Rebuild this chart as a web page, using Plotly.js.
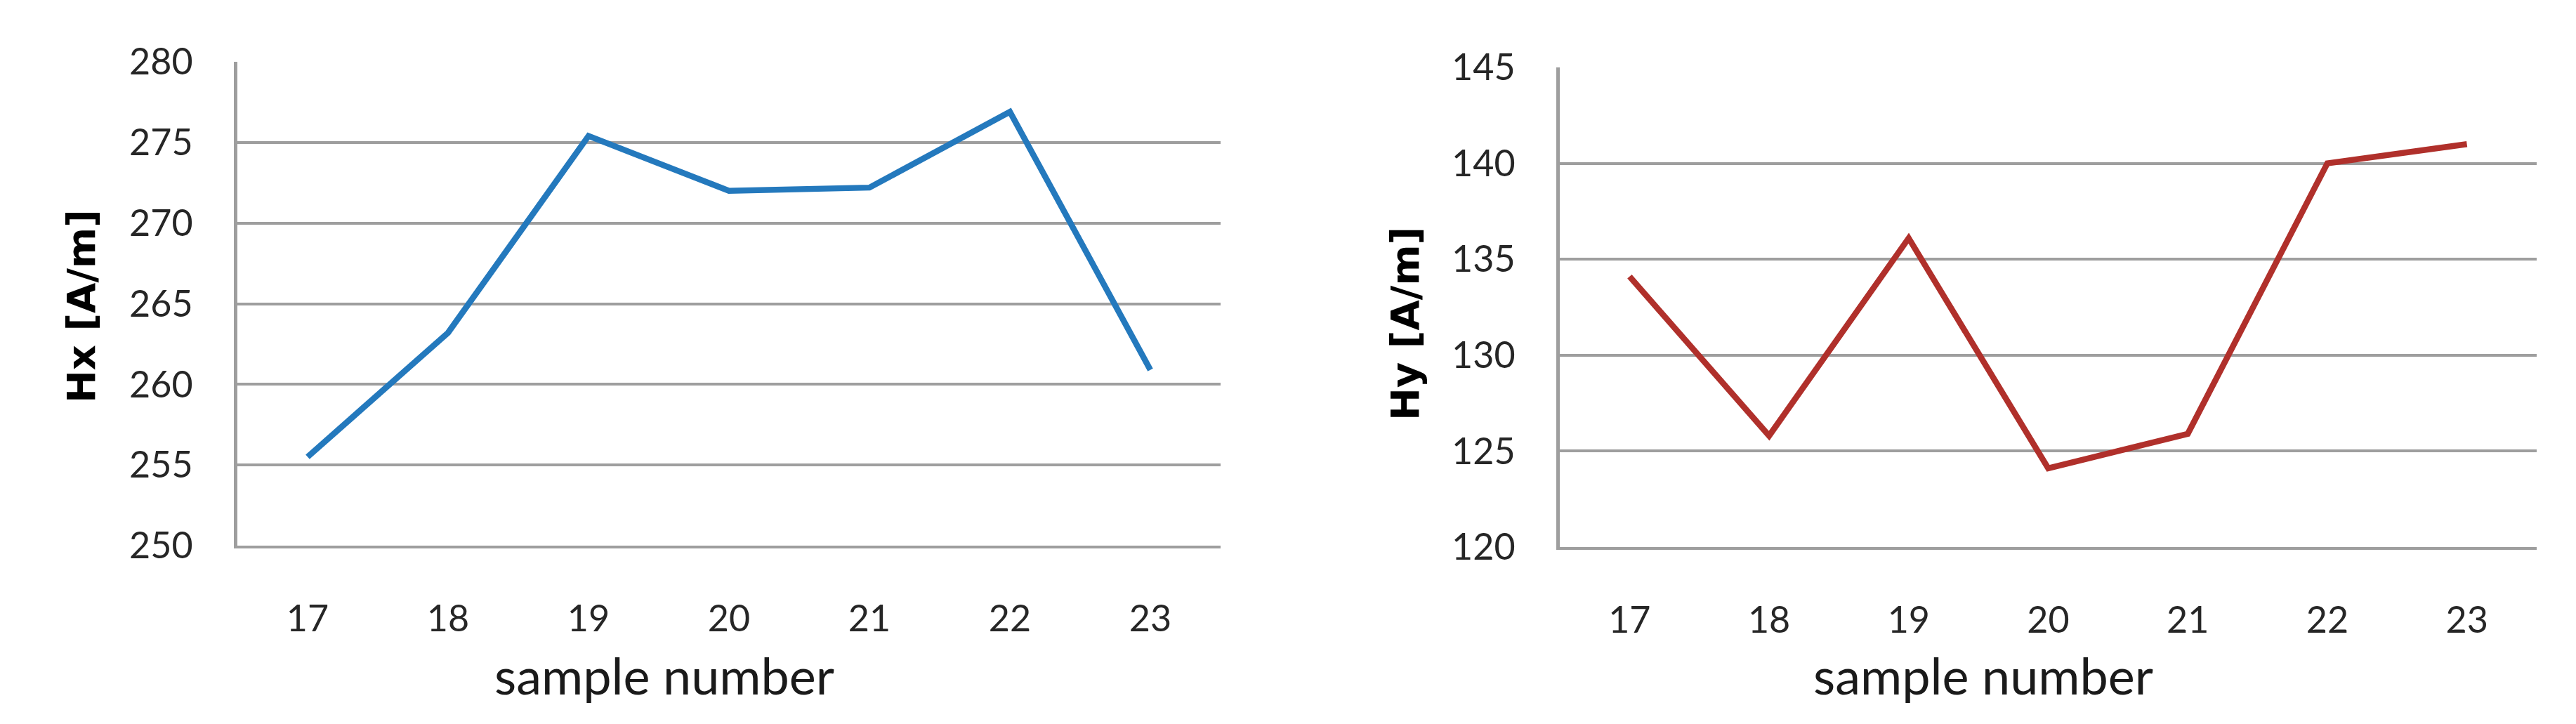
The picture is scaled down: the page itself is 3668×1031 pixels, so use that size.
<!DOCTYPE html>
<html>
<head>
<meta charset="utf-8">
<script src="https://cdn.plot.ly/plotly-3.0.1.min.js"></script>
<style>
  html, body { margin: 0; padding: 0; background: #ffffff; }
  #chart { width: 3668px; height: 1031px; }
</style>
</head>
<body>
<div id="chart"></div>
<script>
// ---- data ----
const sampleNumbers = [17, 18, 19, 20, 21, 22, 23];
const hxValues = [255.5, 263.2, 275.4, 272.0, 272.2, 276.9, 260.9];
const hyValues = [134.1, 125.8, 136.1, 124.1, 125.9, 140.0, 141.0];
const hxTicks = [250, 255, 260, 265, 270, 275, 280];
const hyTicks = [120, 125, 130, 135, 140, 145];
const xTitleText = "sample number";
const hxTitleText = "Hx [A/m]";
const hyTitleText = "Hy [A/m]";

const W = 3668, H = 1031;
const px = v => v / W;
const py = v => 1 - v / H;

const tickFont = { family: "Lato, 'Liberation Sans', sans-serif", size: 52, color: "#262626" };
const gridColor = "#9e9e9e";

const traces = [
  {
    type: "scatter", mode: "lines",
    x: sampleNumbers, y: hxValues,
    xaxis: "x", yaxis: "y",
    line: { color: "#2479bd", width: 8.5 },
    hoverinfo: "x+y", showlegend: false
  },
  {
    type: "scatter", mode: "lines",
    x: sampleNumbers, y: hyValues,
    xaxis: "x2", yaxis: "y2",
    line: { color: "#b0302b", width: 8.5 },
    hoverinfo: "x+y", showlegend: false
  }
];

function xAxis(domain, anchor) {
  return {
    domain: domain, anchor: anchor,
    range: [16.5, 23.5],
    tickvals: sampleNumbers,
    ticktext: sampleNumbers.map(String),
    showgrid: false, zeroline: false,
    showline: true, linecolor: gridColor, linewidth: 4,
    ticks: "", ticklabelstandoff: 56,
    tickfont: tickFont, fixedrange: true
  };
}
function yAxis(domain, anchor, range, ticks) {
  return {
    domain: domain, anchor: anchor,
    range: range,
    tickvals: ticks,
    ticktext: ticks.map(String),
    showgrid: true, gridcolor: gridColor, gridwidth: 4,
    zeroline: false,
    showline: true, linecolor: gridColor, linewidth: 5,
    ticks: "", ticklabelstandoff: 48,
    tickfont: tickFont, fixedrange: true
  };
}

const titleFontX = { family: "Lato, 'Liberation Sans', sans-serif", size: 72, color: "#1a1a1a" };
const titleFontY = { family: "'DejaVu Sans', Verdana, sans-serif", size: 56, color: "#000000", weight: "bold" };

const layout = {
  width: W, height: H,
  margin: { l: 0, r: 0, t: 0, b: 0, pad: 0 },
  paper_bgcolor: "#ffffff", plot_bgcolor: "#ffffff",
  showlegend: false,
  xaxis: xAxis([px(338), px(1738)], "y"),
  yaxis: yAxis([py(777), py(88)], "x", [250, 280], hxTicks),
  xaxis2: xAxis([px(2221), px(3612)], "y2"),
  yaxis2: yAxis([py(779), py(96)], "x2", [120, 145], hyTicks),
  annotations: [
    { text: hxTitleText, xref: "paper", yref: "paper", x: px(115), y: py(436),
      xanchor: "center", yanchor: "middle", textangle: -90, showarrow: false,
      font: titleFontY },
    { text: hyTitleText, xref: "paper", yref: "paper", x: px(2000), y: py(461),
      xanchor: "center", yanchor: "middle", textangle: -90, showarrow: false,
      font: titleFontY },
    { text: xTitleText, xref: "paper", yref: "paper", x: px(946), y: py(961),
      xanchor: "center", yanchor: "middle", showarrow: false, font: titleFontX },
    { text: xTitleText, xref: "paper", yref: "paper", x: px(2824), y: py(961),
      xanchor: "center", yanchor: "middle", showarrow: false, font: titleFontX }
  ]
};

Plotly.newPlot("chart", traces, layout, { displayModeBar: false, staticPlot: true });
</script>
</body>
</html>
